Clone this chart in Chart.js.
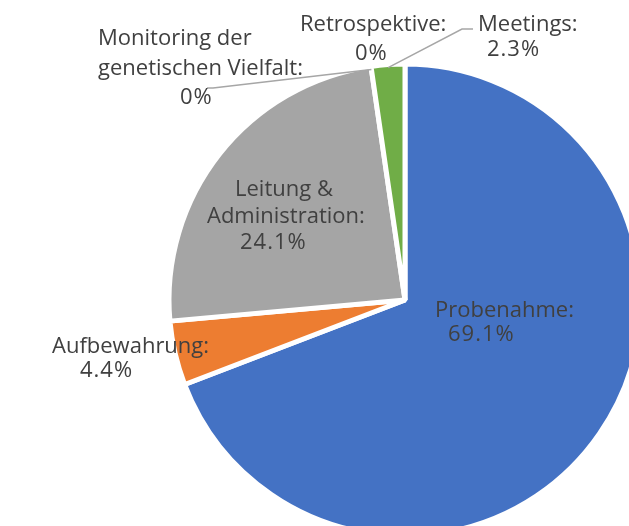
<!DOCTYPE html>
<html>
<head>
<meta charset="utf-8">
<script src="https://cdn.jsdelivr.net/npm/chart.js@4.4.0/dist/chart.umd.min.js"></script>
<style>
  html, body { margin: 0; padding: 0; background: #fff; overflow: hidden; width: 629px; height: 526px; }
  #wrap { position: absolute; left: 0; top: 0; width: 700px; height: 600px; }
</style>
</head>
<body>
<div id="wrap"><canvas id="pieChart" width="700" height="600"></canvas></div>
<script>
const categories = ["Probenahme", "Aufbewahrung", "Leitung & Administration",
    "Monitoring der genetischen Vielfalt", "Retrospektive", "Meetings"];
const shares = [69.1, 4.4, 24.1, 0, 0, 2.3];
const sliceColors = ["#4472c4", "#ed7d31", "#a5a5a5", "#ffc000", "#5b9bd5", "#70ad47"];

// how Excel wrapped each category label
const labelLines = [["Probenahme:"], ["Aufbewahrung:"], ["Leitung &", "Administration:"],
    ["Monitoring der", "genetischen Vielfalt:"], ["Retrospektive:"], ["Meetings:"]];

// left x and baseline y of every line of each label
const labelPos = [
    [[435, 317], [448, 341]],
    [[52, 353], [80, 377]],
    [[235, 196], [207, 223], [240, 249]],
    [[98, 45], [98, 75], [180, 104]],
    [[300, 31], [355, 60]],
    [[478, 31], [487, 56]]
];
// leader line end near the label (start is taken from the slice)
const leaders = { 3: [[213, 88], [207, 88]], 5: [[462, 29], [473, 29]] };

function pct(v) { return v === 0 ? "0%" : v.toFixed(1) + "%"; }

const labelPlugin = {
    id: "excelLabels",
    afterDatasetsDraw(chart) {
        const ctx = chart.ctx;
        const arcs = chart.getDatasetMeta(0).data;
        ctx.save();
        // leader lines
        ctx.strokeStyle = "#a6a6a6";
        ctx.lineWidth = 1.5;
        Object.keys(leaders).forEach(k => {
            const i = +k;
            const a = arcs[i];
            let ang = i === 3 ? a.endAngle : (a.startAngle + a.endAngle) / 2;
            const r = a.outerRadius - 3;
            const sx = a.x + Math.cos(ang) * r, sy = a.y + Math.sin(ang) * r;
            ctx.beginPath();
            ctx.moveTo(sx, sy);
            leaders[k].forEach(p => ctx.lineTo(p[0], p[1]));
            ctx.stroke();
        });
        // text
        ctx.font = "22px 'Open Sans'";
        ctx.fillStyle = "#404040";
        ctx.textBaseline = "alphabetic";
        ctx.textAlign = "left";
        categories.forEach((c, i) => {
            const lines = labelLines[i].concat([pct(shares[i])]);
            lines.forEach((t, j) => {
                const p = labelPos[i][j];
                ctx.letterSpacing = j === lines.length - 1 ? "1px" : "0px";
                ctx.fillText(t, p[0], p[1]);
            });
        });
        ctx.restore();
    }
};

new Chart(document.getElementById("pieChart"), {
    type: "pie",
    data: {
        labels: categories,
        datasets: [{
            data: shares,
            backgroundColor: sliceColors,
            borderColor: "#ffffff",
            borderWidth: 5,
            radius: 236
        }]
    },
    options: {
        responsive: false,
        animation: false,
        events: [],
        layout: { padding: { left: 169, right: 59, top: 64, bottom: 64 } },
        plugins: { legend: { display: false }, tooltip: { enabled: false } }
    },
    plugins: [labelPlugin]
});
</script>
</body>
</html>
